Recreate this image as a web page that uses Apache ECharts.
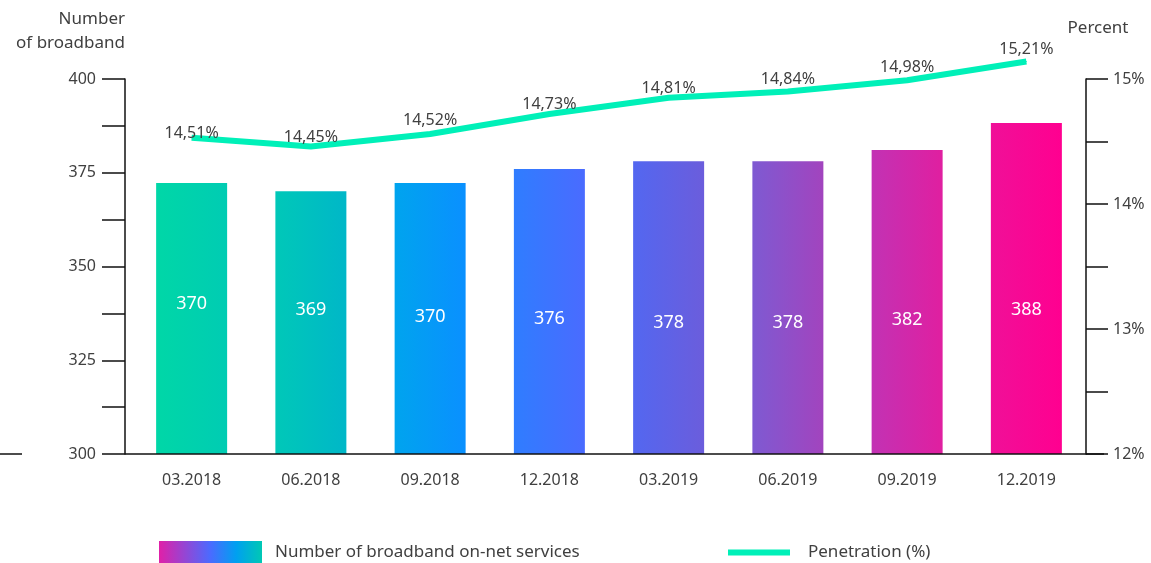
<!DOCTYPE html>
<html><head><meta charset="utf-8">
<script src="https://cdn.jsdelivr.net/npm/echarts@6/dist/echarts.min.js"></script>
<style>html,body{margin:0;padding:0;background:#fff}#c{width:1151px;height:563px}</style>
</head><body><div id="c"></div>
<script>
// ---- data ----
const categories = ['03.2018','06.2018','09.2018','12.2018','03.2019','06.2019','09.2019','12.2019'];
const barValues = [372.3, 370.1, 372.3, 376.0, 378.1, 378.1, 381.1, 388.3];
const barLabels = ['370','369','370','376','378','378','382','388'];
const penetration = [14.53, 14.46, 14.56, 14.72, 14.85, 14.90, 14.99, 15.14];
const penetrationLabels = ['14,51%','14,45%','14,52%','14,73%','14,81%','14,84%','14,98%','15,21%'];
const leftTicks = [300, 325, 350, 375, 400];
const rightTicks = [12, 13, 14, 15];

// ---- styles ----
const barGradients = [
  ['#00D7A7','#00CCB3'],['#00C8B8','#00B7C8'],['#00A4EE','#0A90FF'],['#2F7DFF','#4A6BFF'],
  ['#5367F0','#6B5DDC'],['#7E5AD2','#A244BE'],['#C232B4','#E01FA0'],['#F01098','#FF0090']
];
const labelOffsets = [-15, -13, -2, 7, 15, 15, 18, 21];
const lineLabelOffsets = [8, 3, -1, 3, 3, 0, 0, 0];
const txt = '#404040';
const font = 'Noto Sans';

const chart = echarts.init(document.getElementById('c'));
const grad = (a,b) => new echarts.graphic.LinearGradient(0,0,1,0,[{offset:0,color:a},{offset:1,color:b}]);

chart.setOption({
  animation:false,
  textStyle:{fontFamily:font},
  grid:{left:132,right:65,top:79,bottom:109},
  legend:[
    {data:['Number of broadband on-net services'],left:154,top:536,itemWidth:103,itemHeight:23,icon:'rect',
     textStyle:{color:txt,fontSize:17,fontFamily:font,padding:[0,0,0,8]}},
    {data:['Penetration (%)'],left:723,top:536,itemWidth:62,itemHeight:6,icon:'rect',
     textStyle:{color:txt,fontSize:17,fontFamily:font,padding:[0,0,0,13],lineHeight:23}}
  ],
  xAxis:{type:'category',data:categories,
    axisLine:{show:false},axisTick:{show:false},
    axisLabel:{color:txt,fontSize:16,margin:18,fontFamily:font}},
  yAxis:[
    {type:'value',min:300,max:400,interval:12.5,offset:7,
     name:'Number\nof broadband',nameLocation:'end',nameGap:24,
     nameTextStyle:{color:txt,fontSize:17,align:'right',lineHeight:24,fontFamily:font},
     axisLine:{show:true,lineStyle:{color:'#111',width:1.5}},
     axisTick:{show:true,length:23,lineStyle:{color:'#111',width:1.5}},
     splitLine:{show:false},
     axisLabel:{color:txt,fontSize:16,margin:29,fontFamily:font,
       formatter:v=>leftTicks.indexOf(v)>=0?String(v):''}},
    {type:'value',min:12,max:15,interval:0.5,position:'right',
     name:'Percent',nameLocation:'end',nameGap:42,
     nameTextStyle:{color:txt,fontSize:17,align:'center',fontFamily:font,padding:[0,0,0,24]},
     axisLine:{show:true,lineStyle:{color:'#111',width:1.5}},
     axisTick:{show:true,length:22,inside:false,lineStyle:{color:'#111',width:1.5}},
     splitLine:{show:false},
     axisLabel:{color:txt,fontSize:16,margin:27,fontFamily:font,
       formatter:v=>rightTicks.indexOf(v)>=0?v+'%':''}}
  ],
  graphic:[
    {type:'line',shape:{x1:0,y1:454,x2:22,y2:454},style:{stroke:'#111',lineWidth:1.5}},
    {type:'line',shape:{x1:125,y1:454,x2:1104,y2:454},style:{stroke:'#111',lineWidth:1.5},z:10}
  ],
  series:[
    {name:'Number of broadband on-net services',type:'bar',barWidth:71,
     itemStyle:{color:new echarts.graphic.LinearGradient(0,0,1,0,[
       {offset:0,color:'#E020A8'},{offset:0.5,color:'#4A6BFF'},{offset:0.75,color:'#00A0F0'},{offset:1,color:'#00C8B4'}])},
     data:barValues.map((v,i)=>({value:v,itemStyle:{color:grad(barGradients[i][0],barGradients[i][1])},
       label:{offset:[0,labelOffsets[i]]}})),
     label:{show:true,position:'inside',color:'#fff',fontSize:18,fontFamily:font,
       formatter:p=>barLabels[p.dataIndex]}},
    {name:'Penetration (%)',type:'line',yAxisIndex:1,clip:false,
     data:penetration.map((v,i)=>({value:v,label:{offset:[0,lineLabelOffsets[i]]}})),
     symbol:'circle',symbolSize:1,showSymbol:true,
     lineStyle:{color:'#00F0B8',width:6},itemStyle:{color:'#00F0B8'},
     label:{show:true,position:'top',distance:4,color:txt,fontSize:16,fontFamily:font,
       formatter:p=>penetrationLabels[p.dataIndex]}}
  ]
});
</script></body></html>
